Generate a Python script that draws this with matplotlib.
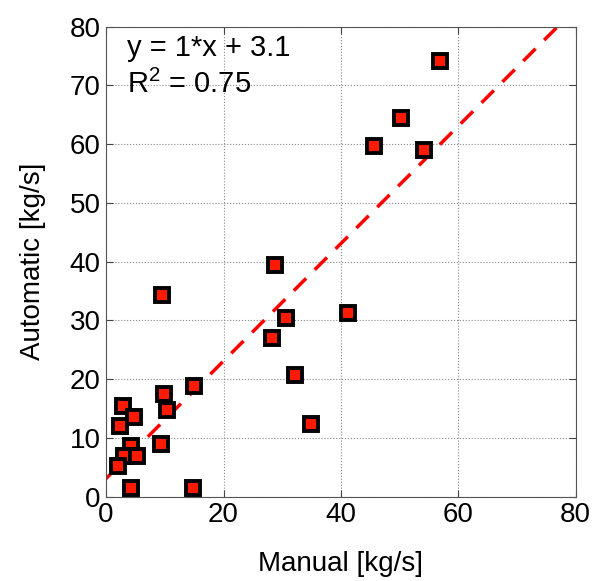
import numpy as np
import matplotlib
matplotlib.use("Agg")
import matplotlib.pyplot as plt

plt.rcParams['font.family'] = ['Liberation Sans', 'DejaVu Sans']
plt.rcParams['mathtext.fontset'] = 'custom'
plt.rcParams['mathtext.rm'] = 'Liberation Sans'

# manual vs automatic measurements [kg/s]
manual = [56.8, 50.3, 45.7, 54.1, 28.7, 9.5, 41.2, 30.6, 28.3, 32.2, 14.9, 9.8,
          2.8, 10.3, 4.7, 34.9, 2.4, 9.3, 4.2, 3.1, 5.2, 2.1, 4.3, 14.8]
automatic = [74.2, 64.5, 59.7, 59.1, 39.4, 34.4, 31.2, 30.4, 27.1, 20.7, 18.8, 17.5,
             15.4, 14.8, 13.6, 12.4, 12.1, 8.9, 8.6, 6.9, 6.9, 5.2, 1.5, 1.5]
slope = 1.0
intercept = 3.1
r2 = 0.75
ticks = [0, 20, 40, 60, 80]


def main():
    fig = plt.figure(figsize=(5.96, 5.81), dpi=100)
    ax = fig.add_axes([0.178, 0.145, 0.788, 0.809])

    xl = np.array([0, 80])
    ax.plot(xl, slope * xl + intercept, '--', color='#ff0000', lw=2.5,
            dashes=(5, 3.5), zorder=2)
    ax.plot(manual, automatic, 's', ms=10, mfc='#ff1a00', mec='black',
            mew=2.8, zorder=3)

    ax.set_xlim(0, 80)
    ax.set_ylim(0, 80)
    ax.set_xticks(ticks)
    ax.set_yticks([0, 10, 20, 30, 40, 50, 60, 70, 80])
    ax.grid(True, ls=':', color='#888888', lw=0.8)
    ax.tick_params(direction='in', top=True, right=True, labelsize=20,
                   length=5, pad=4, color='#444444')
    for s in ax.spines.values():
        s.set_linewidth(0.8)
        s.set_color('#555555')

    ax.set_xlabel("Manual [kg/s]", fontsize=20, labelpad=16)
    ax.set_ylabel("Automatic [kg/s]", fontsize=20, labelpad=17)

    ax.text(0.045, 76.3, "y = %g*x + %.1f" % (slope, intercept), fontsize=21,
            va='center', transform=ax.get_yaxis_transform())
    ax.text(0.045, 70.2, r"R$^2$ = %.2f" % r2, fontsize=21, va='center',
            transform=ax.get_yaxis_transform())

    fig.savefig("out.png", dpi=100)


if __name__ == "__main__":
    main()
